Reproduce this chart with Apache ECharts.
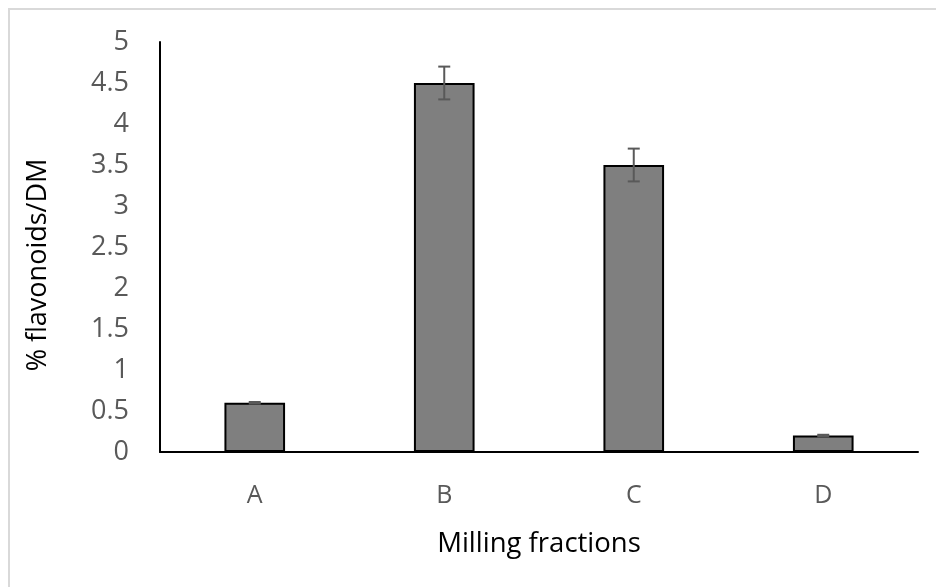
<!DOCTYPE html>
<html><head><meta charset="utf-8">
<script src="https://cdn.jsdelivr.net/npm/echarts@6/dist/echarts.min.js"></script>
<style>html,body{margin:0;padding:0;background:#fff}#c{width:936px;height:587px}</style>
</head><body><div id="c"></div>
<script>
const categories = ['A', 'B', 'C', 'D'];
const values = [0.6, 4.5, 3.5, 0.2];
const errors = [0.01, 0.2, 0.2, 0.01];
const yTicks = [0, 0.5, 1, 1.5, 2, 2.5, 3, 3.5, 4, 4.5, 5];

const chart = echarts.init(document.getElementById('c'));
const font = '"Open Sans", "Liberation Sans", sans-serif';
chart.setOption({
  animation: false,
  graphic: [{type: 'rect', shape: {x: 9, y: 9, width: 940, height: 600}, style: {fill: 'none', stroke: '#d9d9d9', lineWidth: 2}}],
  grid: {left: 160, right: 18, top: 42, bottom: 135},
  xAxis: {
    type: 'category', data: categories,
    name: 'Milling fractions', nameLocation: 'middle', nameGap: 78,
    nameTextStyle: {fontFamily: font, fontSize: 27.5, color: '#000'},
    axisLine: {lineStyle: {color: '#000', width: 2}},
    axisTick: {show: false},
    axisLabel: {fontFamily: font, fontSize: 25, color: '#595959', margin: 31}
  },
  yAxis: {
    type: 'value', min: 0, max: 5, interval: 0.5,
    name: '% flavonoids/DM', nameLocation: 'middle', nameGap: 108,
    nameTextStyle: {fontFamily: font, fontSize: 27, color: '#000', padding: [0, 36, 0, 0]},
    axisLine: {show: true, lineStyle: {color: '#000', width: 2}},
    axisTick: {show: false},
    splitLine: {show: false},
    axisLabel: {fontFamily: font, fontSize: 27, color: '#595959', margin: 31,
      formatter: v => yTicks.includes(v) ? String(v) : ''}
  },
  series: [
    {type: 'bar', data: values, barWidth: '32%',
     itemStyle: {color: '#7f7f7f', borderColor: '#000', borderWidth: 2}},
    {type: 'custom', z: 10,
     data: values.map((v, i) => [i, v - errors[i], v + errors[i]]),
     renderItem: (params, api) => {
       const x = api.value(0);
       const lo = api.coord([x, api.value(1)]);
       const hi = api.coord([x, api.value(2)]);
       const hw = 6;
       const st = {stroke: '#595959', lineWidth: 2};
       return {type: 'group', children: [
         {type: 'line', shape: {x1: lo[0], y1: lo[1], x2: hi[0], y2: hi[1]}, style: st},
         {type: 'line', shape: {x1: lo[0]-hw, y1: lo[1], x2: lo[0]+hw, y2: lo[1]}, style: st},
         {type: 'line', shape: {x1: hi[0]-hw, y1: hi[1], x2: hi[0]+hw, y2: hi[1]}, style: st}
       ]};
     }}
  ]
});
</script></body></html>
